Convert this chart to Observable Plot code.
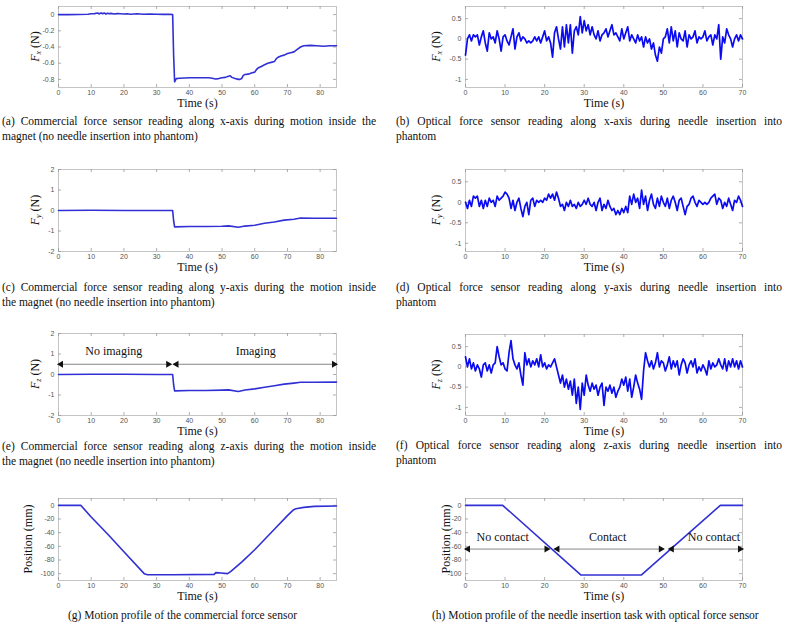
<!DOCTYPE html>
<html><head><meta charset="utf-8">
<script src="https://cdn.jsdelivr.net/npm/d3@7"></script>
<script src="https://cdn.jsdelivr.net/npm/@observablehq/plot@0.6"></script>
<style>
body{margin:0;background:#fff;}
#root{position:relative;width:786px;height:631px;overflow:hidden;font-family:"Liberation Serif","Times New Roman",serif;color:#111;}
.p{position:absolute;}
.cap{position:absolute;font-size:11.5px;line-height:15px;white-space:nowrap;}
.just{text-align:justify;text-align-last:justify;}
</style></head><body><div id="root"></div>
<script>
// ---------- tick labels ----------
const ticksX85 = [0, 10, 20, 30, 40, 50, 60, 70, 80];
const ticksX70 = [0, 10, 20, 30, 40, 50, 60, 70];
const ticksYa = [-0.8, -0.6, -0.4, -0.2, 0];
const ticksYopt = [-1, -0.5, 0, 0.5];
const ticksYcom = [-2, -1, 0, 1, 2];
const ticksYpos = [-100, -80, -60, -40, -20, 0];

// ---------- (a) commercial sensor, x-axis ----------
const tA = [0, 3, 6, 9, 10, 11, 12, 12.5, 13, 13.5, 14, 14.5, 15, 15.5, 16, 17, 18, 19, 20, 21, 22, 24, 26, 28, 30, 32, 34, 34.9, 35.2, 35.5, 36, 37, 40, 43, 46, 47, 48, 49, 50, 51, 52, 52.5, 53, 54, 55, 55.5, 56, 56.5, 57, 58, 59, 60, 60.5, 61, 62, 63, 64, 65, 66, 66.5, 67, 68, 69, 70, 71, 72, 73, 74, 75, 77, 79, 81, 83, 85];
const vA = [0, 0, 0.002, 0.005,
  0.01, 0.012, 0.02, 0.008, 0.022, 0.01, 0.02, 0.005, 0.018, 0.01,
  0.015, 0.008, 0.012, 0.01, 0.008, 0.01, 0.005,
  0.01, 0.005, 0.008, 0.005, 0.003, 0.003,
  0.002, -0.5, -0.83, -0.79, -0.785,
  -0.78, -0.78, -0.78, -0.785, -0.795, -0.79, -0.78,
  -0.775, -0.76, -0.755, -0.775, -0.79, -0.8, -0.8,
  -0.79, -0.75, -0.74, -0.735, -0.72, -0.71, -0.68,
  -0.66, -0.64, -0.62, -0.6, -0.59, -0.58, -0.55,
  -0.53, -0.51, -0.5, -0.48, -0.47, -0.46, -0.43,
  -0.4, -0.385, -0.38, -0.385, -0.39, -0.385, -0.385];

// ---------- (c) commercial sensor, y-axis ----------
const tC = [0, 10, 20, 30, 34.9, 35.2, 35.5, 40, 45, 50, 52, 55, 57, 60, 63, 66, 69, 72, 74, 78, 85];
const vC = [0, 0.01, 0, 0, 0, -0.5, -0.8, -0.78, -0.78, -0.77, -0.75, -0.82, -0.76, -0.72, -0.62, -0.56, -0.47, -0.43, -0.37, -0.38, -0.38];

// ---------- (e) commercial sensor, z-axis ----------
const tE = [0, 10, 20, 30, 34.9, 35.2, 35.5, 40, 45, 50, 52, 55, 57, 60, 63, 66, 69, 72, 74, 78, 85];
const vE = [0, 0.01, 0.01, 0, 0, -0.5, -0.8, -0.78, -0.78, -0.76, -0.75, -0.83, -0.76, -0.7, -0.62, -0.55, -0.47, -0.42, -0.38, -0.38, -0.37];
const eSegStart = [0, 35.3];
const eSegEnd = [34.3, 85];
const eArrowY = 0.5;
const eLabels = ["No imaging", "Imaging"];
const eLabelX = [16.9, 60.3];
const eLabelY = 1.12;

// ---------- optical sensor, shared time samples ----------
const tOpt = [
  0, 0.5, 1, 1.5, 2, 2.5, 3, 3.5, 4, 4.5,
  5, 5.5, 6, 6.5, 7, 7.5, 8, 8.5, 9, 9.5,
  10, 10.5, 11, 11.5, 12, 12.5, 13, 13.5, 14, 14.5,
  15, 15.5, 16, 16.5, 17, 17.5, 18, 18.5, 19, 19.5,
  20, 20.5, 21, 21.5, 22, 22.5, 23, 23.5, 24, 24.5,
  25, 25.5, 26, 26.5, 27, 27.5, 28, 28.5, 29, 29.5,
  30, 30.5, 31, 31.5, 32, 32.5, 33, 33.5, 34, 34.5,
  35, 35.5, 36, 36.5, 37, 37.5, 38, 38.5, 39, 39.5,
  40, 40.5, 41, 41.5, 42, 42.5, 43, 43.5, 44, 44.5,
  45, 45.5, 46, 46.5, 47, 47.5, 48, 48.5, 49, 49.5,
  50, 50.5, 51, 51.5, 52, 52.5, 53, 53.5, 54, 54.5,
  55, 55.5, 56, 56.5, 57, 57.5, 58, 58.5, 59, 59.5,
  60, 60.5, 61, 61.5, 62, 62.5, 63, 63.5, 64, 64.5,
  65, 65.5, 66, 66.5, 67, 67.5, 68, 68.5, 69, 69.5,
  70];

// (b) optical, x-axis
const vB = [
  -0.4, 0.0, 0.1, -0.05, 0.1, 0.05, 0.1, -0.15, 0.05, 0.2,
  -0.1, -0.3, 0.15, 0.0, 0.05, -0.1, 0.2, 0.0, -0.3, 0.05,
  0.1, -0.05, -0.15, 0.05, 0.25, -0.25, 0.05, 0.15, -0.05, 0.05,
  0.0, -0.1, -0.05, -0.1, -0.05, 0.05, -0.05, 0.05, -0.1, 0.05,
  0.2, -0.05, 0.05, -0.1, -0.45, 0.15, 0.3, 0.0, -0.25, 0.3,
  -0.2, 0.35, -0.1, 0.35, -0.35, 0.2, 0.3, 0.1, 0.55, 0.15,
  0.45, 0.2, 0.35, 0.1, 0.3, 0.1, 0.0, 0.2, -0.05, 0.1,
  0.15, 0.25, 0.05, 0.2, 0.35, 0.1, 0.15, 0.05, -0.05, 0.25,
  0.0, 0.15, 0.3, -0.05, 0.1, 0.0, -0.1, 0.1, -0.05, 0.05,
  -0.2, 0.05, -0.1, 0.0, -0.25, -0.1, -0.4, -0.55, -0.2, -0.35,
  0.0, 0.05, 0.25, -0.1, 0.3, -0.05, 0.2, -0.2, 0.15, 0.0,
  -0.05, 0.2, -0.2, 0.1, 0.0, 0.05, 0.2, -0.1, 0.05, 0.0,
  0.05, 0.2, -0.05, 0.05, 0.1, -0.15, 0.1, 0.0, 0.35, -0.5,
  0.05, -0.1, 0.25, 0.1, 0.0, -0.2, 0.0, 0.1, -0.05, 0.1,
  0.0];

// (d) optical, y-axis
const vD = [
  0.0, -0.15, 0.05, -0.1, 0.15, 0.1, 0.15, -0.1, 0.05, -0.15,
  0.05, -0.1, 0.1, 0.0, 0.05, -0.1, 0.15, 0.05, 0.1, 0.15,
  0.25, 0.2, 0.1, -0.15, 0.05, -0.2, 0.0, 0.1, -0.15, -0.35,
  -0.1, 0.0, -0.3, 0.05, 0.1, -0.1, 0.05, 0.0, 0.05, 0.0,
  0.1, 0.05, 0.2, 0.1, 0.2, 0.05, 0.25, 0.1, -0.1, -0.05,
  -0.2, 0.0, -0.1, 0.05, -0.1, -0.05, -0.15, 0.0, -0.1, -0.05,
  0.05, -0.05, 0.1, -0.05, -0.1, 0.0, -0.2, 0.0, 0.1, -0.2,
  -0.05, -0.15, 0.05, -0.1, -0.2, -0.15, -0.3, -0.2, -0.3, -0.15,
  -0.25, -0.1, -0.25, 0.15, -0.05, 0.2, 0.0, 0.1, -0.15, 0.3,
  -0.05, 0.15, -0.2, 0.05, 0.2, -0.05, -0.15, 0.1, -0.1, 0.15,
  0.0, -0.1, 0.1, -0.15, 0.05, 0.15, 0.0, -0.2, 0.05, 0.1,
  -0.1, -0.3, -0.1, -0.05, 0.1, 0.15, 0.0, -0.1, 0.05, 0.0,
  -0.05, 0.0, -0.05, 0.0, 0.1, 0.15, 0.2, -0.05, 0.1, 0.05,
  -0.15, 0.0, -0.1, 0.1, -0.05, -0.2, 0.05, 0.0, 0.15, 0.05,
  -0.1];

// (f) optical, z-axis
const vF = [
  0.25, 0.0, 0.2, -0.05, 0.1, -0.1, 0.05, -0.05, -0.25, 0.05,
  0.1, -0.1, 0.05, -0.15, 0.05, 0.1, 0.5, 0.25, 0.05, 0.1,
  -0.05, -0.1, 0.35, 0.65, 0.2, 0.05, -0.05, 0.1, -0.2, -0.45,
  0.35, 0.05, 0.2, 0.0, 0.15, 0.05, 0.2, 0.0, 0.3, 0.0,
  0.1, -0.05, 0.05, 0.0, 0.1, 0.2, 0.0, -0.2, -0.4, -0.2,
  -0.5, -0.3, -0.55, -0.35, -0.7, -0.3, -0.9, -0.5, -1.05, -0.4,
  -0.7, -0.2, -0.45, -0.6, -0.4, -0.55, -0.45, -0.7, -0.5, -0.4,
  -0.95, -0.5, -0.6, -0.45, -0.65, -0.5, -0.75, -0.6, -0.5, -0.3,
  -0.45, -0.25, -0.6, -0.3, -0.75, -0.5, -0.2, -0.4, -0.55, -0.8,
  -0.1, 0.35, 0.15, 0.0, 0.15, -0.05, 0.1, 0.35, 0.0, 0.15,
  0.1, -0.1, 0.05, 0.25, -0.05, 0.15, 0.0, 0.15, -0.2, 0.05,
  0.2, 0.1, -0.15, 0.05, 0.15, 0.0, 0.2, -0.15, 0.0, -0.1,
  0.05, -0.05, -0.2, 0.15, -0.05, 0.1, 0.0, 0.05, 0.2, 0.05,
  -0.05, 0.2, -0.1, 0.15, 0.0, 0.2, 0.0, 0.15, -0.05, 0.15,
  0.0];

// ---------- (g) motion profile, commercial sensor ----------
const tG = [0, 6.8, 10, 15, 20, 26.2, 27.2, 35, 47.6, 48.1, 49.6, 51.7, 52.7, 56, 60, 66, 70, 71.9, 72.6, 75, 78.2, 85];
const vG = [0, 0, -17, -42, -68, -100, -101.5, -101.5, -101, -98.5, -99, -100, -96.5, -83, -65, -35, -15, -6.3, -5, -3, -1.5, -1];

// ---------- (h) motion profile, optical sensor ----------
const tH = [0, 9.4, 29.2, 44.4, 64.4, 70];
const vH = [0, 0, -102, -102, 0, 0];
const hSegStart = [0, 22.6, 51.5];
const hSegEnd = [21.1, 50, 70];
const hArrowY = -64;
const hLabels = ["No contact", "Contact", "No contact"];
const hLabelX = [9.4, 35.9, 62.8];
const hLabelY = -47;

// ---------- captions ----------
const captions = [
  {id: "a", l1: "(a) Commercial force sensor reading along x-axis during motion inside the", l2: "magnet (no needle insertion into phantom)"},
  {id: "b", l1: "(b) Optical force sensor reading along x-axis during needle insertion into", l2: "phantom"},
  {id: "c", l1: "(c) Commercial force sensor reading along y-axis during the motion inside", l2: "the magnet (no needle insertion into phantom)"},
  {id: "d", l1: "(d) Optical force sensor reading along y-axis during needle insertion into", l2: "phantom"},
  {id: "e", l1: "(e) Commercial force sensor reading along z-axis during the motion inside", l2: "the magnet (no needle insertion into phantom)"},
  {id: "f", l1: "(f) Optical force sensor reading along z-axis during needle insertion into", l2: "phantom"},
  {id: "g", l1: "(g) Motion profile of the commercial force sensor", l2: null},
  {id: "h", l1: "(h) Motion profile of the needle insertion task with optical force sensor", l2: null}
];

// ---------- layout ----------
const SERIF = "Liberation Serif, Times New Roman, serif";
const SANS = "Liberation Sans, Arial, sans-serif";
const COM = "#3030d4", OPT = "#0b0bf2";
const root = document.getElementById("root");

const zip = (t, v) => t.map((x, i) => ({x, y: v[i]}));

function panel(cfg) {
  const col = cfg.col;
  const left = col * 393;
  const fl = col === 0 ? 58 : 465, fr = col === 0 ? 336 : 742;
  const mt = 10, mb = 30;
  const ml = fl - left, mr = left + 393 - fr;
  const fh = cfg.fb - cfg.ft, fw = fr - fl;
  const marks = [
    Plot.frame({stroke: "#c4c4c4"}),
    Plot.tickX(cfg.xt, {x: d => d, insetTop: fh - 3, stroke: "#999", strokeWidth: 0.8}),
    Plot.tickX(cfg.xt, {x: d => d, insetBottom: fh - 3, stroke: "#999", strokeWidth: 0.8}),
    Plot.tickY(cfg.yt, {y: d => d, insetRight: fw - 3, stroke: "#999", strokeWidth: 0.8}),
    Plot.tickY(cfg.yt, {y: d => d, insetLeft: fw - 3, stroke: "#999", strokeWidth: 0.8}),
    Plot.axisX(cfg.xt, {tickSize: 0, tickPadding: 3, tickFormat: d => String(d), fontSize: 7, color: "#555", label: null}),
    Plot.axisY(cfg.yt, {tickSize: 0, tickPadding: 4, tickFormat: d => String(d), fontSize: 7, color: "#555", label: null}),
    Plot.line(cfg.data, {x: "x", y: "y", stroke: cfg.color, strokeWidth: cfg.sw, strokeLinejoin: "round"}),
    Plot.text(["Time (s)"], {frameAnchor: "bottom", lineAnchor: "middle", dy: 16, fontSize: 12, fontFamily: SERIF, fill: "#111"})
  ];
  if (cfg.extra) marks.push(...cfg.extra);
  const svg = Plot.plot({
    width: 393, height: mt + fh + mb,
    marginTop: mt, marginBottom: mb, marginLeft: ml, marginRight: mr,
    x: {domain: cfg.xd}, y: {domain: cfg.yd},
    style: {fontFamily: SANS, background: "transparent", overflow: "visible"},
    marks
  });
  // rotated y-axis label
  const t = d3.select(svg).append("text")
    .attr("transform", `translate(${ml - cfg.yOff},${mt + fh / 2}) rotate(-90)`)
    .attr("text-anchor", "middle").attr("dominant-baseline", "central")
    .attr("font-family", SERIF).attr("font-size", 12).attr("fill", "#111");
  if (cfg.sub) {
    t.append("tspan").attr("font-style", "italic").text("F");
    t.append("tspan").attr("font-style", "italic").attr("font-size", 8).attr("dy", 3).text(cfg.sub);
    t.append("tspan").attr("dy", -3).text(" (N)");
  } else {
    t.text(cfg.ylabel);
  }
  svg.classList.add("p");
  svg.style.left = left + "px";
  svg.style.top = (cfg.ft - mt) + "px";
  root.appendChild(svg);
}

function arrowMarks(starts, ends, y, labels, labelX, labelY) {
  const segs = starts.map((s, i) => ({x1: s, x2: ends[i], y}));
  const leftHeads = segs.map(s => ({x: s.x1, y: s.y}));
  const rightHeads = segs.map(s => ({x: s.x2, y: s.y}));
  const labs = labels.map((s, i) => ({s, x: labelX[i], y: labelY}));
  return [
    Plot.ruleY(segs, {y: "y", x1: "x1", x2: "x2", stroke: "#666", strokeWidth: 0.8}),
    Plot.dot(leftHeads, {x: "x", y: "y", symbol: "triangle", rotate: -90, r: 2.6, fill: "#111", stroke: "none", dx: 2.5}),
    Plot.dot(rightHeads, {x: "x", y: "y", symbol: "triangle", rotate: 90, r: 2.6, fill: "#111", stroke: "none", dx: -2.5}),
    Plot.text(labs, {x: "x", y: "y", text: "s", fontSize: 12, fontFamily: SERIF, fill: "#111"})
  ];
}

panel({col: 0, ft: 6, fb: 87, xd: [0, 85], xt: ticksX85, yd: [-0.9, 0.1], yt: ticksYa, data: zip(tA, vA), color: COM, sw: 1.6, sub: "x", yOff: 23});
panel({col: 1, ft: 6, fb: 87, xd: [0, 70], xt: ticksX70, yd: [-1.2, 0.8], yt: ticksYopt, data: zip(tOpt, vB), color: OPT, sw: 1.7, sub: "x", yOff: 29});
panel({col: 0, ft: 169, fb: 251, xd: [0, 85], xt: ticksX85, yd: [-2, 2], yt: ticksYcom, data: zip(tC, vC), color: COM, sw: 1.6, sub: "y", yOff: 23});
panel({col: 1, ft: 169, fb: 251, xd: [0, 70], xt: ticksX70, yd: [-1.2, 0.8], yt: ticksYopt, data: zip(tOpt, vD), color: OPT, sw: 1.7, sub: "y", yOff: 29});
panel({col: 0, ft: 333, fb: 415, xd: [0, 85], xt: ticksX85, yd: [-2, 2], yt: ticksYcom, data: zip(tE, vE), color: COM, sw: 1.6, sub: "z", yOff: 23,
  extra: arrowMarks(eSegStart, eSegEnd, eArrowY, eLabels, eLabelX, eLabelY)});
panel({col: 1, ft: 334, fb: 415, xd: [0, 70], xt: ticksX70, yd: [-1.2, 0.8], yt: ticksYopt, data: zip(tOpt, vF), color: OPT, sw: 1.7, sub: "z", yOff: 29});
panel({col: 0, ft: 498, fb: 580, xd: [0, 85], xt: ticksX85, yd: [-110, 10], yt: ticksYpos, data: zip(tG, vG), color: COM, sw: 1.6, ylabel: "Position (mm)", yOff: 30});
panel({col: 1, ft: 498, fb: 580, xd: [0, 70], xt: ticksX70, yd: [-110, 10], yt: ticksYpos, data: zip(tH, vH), color: COM, sw: 1.6, ylabel: "Position (mm)", yOff: 19,
  extra: arrowMarks(hSegStart, hSegEnd, hArrowY, hLabels, hLabelX, hLabelY)});

// captions
const capPos = {
  a: {left: 2, top: 114, width: 374}, b: {left: 396, top: 114, width: 386},
  c: {left: 2, top: 280, width: 374}, d: {left: 396, top: 280, width: 386},
  e: {left: 2, top: 439, width: 374}, f: {left: 396, top: 438, width: 386},
  g: {left: 68, top: 608, width: 250}, h: {left: 432, top: 608, width: 340}
};
for (const c of captions) {
  const p = capPos[c.id];
  const d1 = document.createElement("div");
  d1.className = "cap" + (c.l2 ? " just" : "");
  d1.style.left = p.left + "px"; d1.style.top = p.top + "px";
  if (c.l2) d1.style.width = p.width + "px";
  d1.textContent = c.l1;
  root.appendChild(d1);
  if (c.l2) {
    const d2 = document.createElement("div");
    d2.className = "cap";
    d2.style.left = p.left + "px"; d2.style.top = (p.top + 15) + "px";
    d2.textContent = c.l2;
    root.appendChild(d2);
  }
}
</script></body></html>
